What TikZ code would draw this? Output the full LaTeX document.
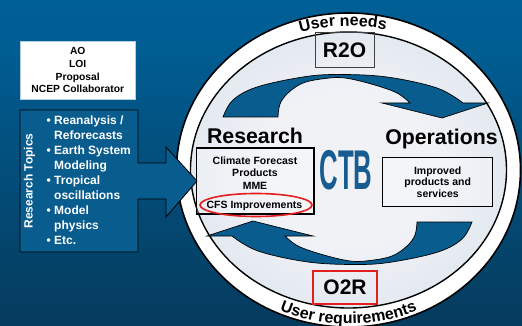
\documentclass[tikz,border=0pt]{standalone}
\usepackage{fontspec}
\setmainfont{Liberation Sans}
\newfontfamily\ctbfont{Liberation Sans}[FakeStretch=0.46]
\usetikzlibrary{decorations.text}
\definecolor{bgtop}{RGB}{0,98,152}
\definecolor{bgmida}{RGB}{0,94,148}
\definecolor{bgmidb}{RGB}{4,70,110}
\definecolor{bgbot}{RGB}{8,40,64}
\definecolor{arrowblue}{RGB}{8,92,142}
\definecolor{ctbblue}{RGB}{24,92,145}
\definecolor{discin}{RGB}{240,242,246}
\definecolor{discmid}{RGB}{220,228,237}
\definecolor{discout}{RGB}{178,202,220}
\definecolor{redline}{RGB}{226,30,30}
\pgfdeclareverticalshading{bgshade}{100bp}{color(0bp)=(bgbot); color(39bp)=(bgmidb); color(69bp)=(bgmida); color(100bp)=(bgtop)}
\pgfdeclareradialshading{discshade}{\pgfpoint{0bp}{0bp}}{color(0bp)=(discin); color(14bp)=(discin); color(32bp)=(discmid); color(50bp)=(discout)}
\def\curvearrow{(223,-117) -- plot[smooth,tension=0.6] coordinates {(223,-117) (233,-100) (257,-87) (303,-77) (338,-74.5) (387,-77) (437,-88) (463,-103)} -- (488,-103) -- (442,-118) -- (382,-103) -- (410,-103) -- plot[smooth,tension=0.6] coordinates {(410,-103) (397,-93) (373,-84.5) (345,-78) (325,-78.5) (303,-83) (288,-93) (280,-104) (278,-117)} -- cycle}
\begin{document}
\begin{tikzpicture}[x=1pt,y=1pt,
  arrowfill/.style={fill=arrowblue, draw=black, line width=0.7pt},
  bodytext/.style={font=\bfseries\fontsize{10.5}{12.5}\selectfont, align=center},
  bigword/.style={font=\bfseries\fontsize{21.3}{24}\selectfont},
  flowbox/.style={inner sep=0pt, font=\bfseries\fontsize{21}{22}\selectfont},
  ringtext/.style={decorate, decoration={text along path, text align=center, text={|\bfseries\fontsize{16}{16}\selectfont|#1}}}
]
\useasboundingbox (0,0) rectangle (522,-326);
\clip (0,0) rectangle (522,-326);
\shade[shading=bgshade] (0,0) rectangle (522,-326);
% ring and disc
\coordinate (C) at (348.5,-170);
\draw[fill=white, line width=1.6pt] (C) ellipse [x radius=172, y radius=157];
\shadedraw[shading=discshade, line width=1.4pt] (C) ellipse [x radius=158, y radius=138];
\path[ringtext={User needs}] (C) ++(122:162 and 144) arc[start angle=122, end angle=62, x radius=162, y radius=144];
\path[ringtext={User requirements}] (C) ++(236:168 and 154) arc[start angle=236, end angle=304, x radius=168, y radius=154];
% curved arrows
\filldraw[arrowfill] \curvearrow;
\begin{scope}[shift={(695,-339)}, rotate=180]
\filldraw[arrowfill] \curvearrow;
\end{scope}
% left box with arrow
\filldraw[fill=arrowblue, draw=black, line width=0.8pt] (20,-110) -- (138,-110) -- (138,-163) -- (166,-163) -- (166,-147) -- (197,-181) -- (166,-217) -- (166,-199) -- (138,-199) -- (138,-252) -- (20,-252) -- cycle;
\node[rotate=90, text=white, font=\bfseries\fontsize{12}{14}\selectfont] (rt) at (29.5,-181) {Research Topics};
\node[anchor=north west, inner sep=0pt, align=left, text=white, font=\bfseries\fontsize{12}{15}\selectfont] (topics) at (54,-116) {\llap{\textbullet\ }Reanalysis /\\Reforecasts\\\llap{\textbullet\ }Earth System\\Modeling\\\llap{\textbullet\ }Tropical\\oscillations\\\llap{\textbullet\ }Model\\physics\\\llap{\textbullet\ }Etc.};
% AO box
\node[draw=white!70!bgtop, fill=white, line width=0.5pt, minimum width=115.5pt, minimum height=58pt, inner sep=0pt, align=center, font=\bfseries\fontsize{10.3}{12.7}\selectfont] (ao) at (77.75,-70.2) {AO\\LOI\\Proposal\\NCEP Collaborator};
% R2O / O2R
\node[flowbox, draw=black!75, line width=1pt, minimum width=59pt, minimum height=35pt] (r2o) at (344.5,-50.5) {R2O};
\node[flowbox, draw=redline, line width=1.2pt, minimum width=64pt, minimum height=33pt] (o2r) at (345,-287.5) {O2R};
% Research side
\node[bigword, anchor=base] (research) at (255,-143.3) {Research};
\node[draw, line width=1.2pt, fill=white, fill opacity=0.25, minimum width=117.5pt, minimum height=66pt] (resbox) at (255.25,-181) {};
\node[bodytext, anchor=north, inner sep=0pt] (cfp) at (255,-156.3) {Climate Forecast\\Products\\MME};
\node[anchor=base, font=\bfseries\fontsize{10.5}{12}\selectfont] (cfs) at (254.5,-208.7) {CFS Improvements};
\draw[redline, line width=1.6pt] (256,-205) ellipse [x radius=56, y radius=11.5];
% Operations side
\node[bigword, anchor=base] (ops) at (441.5,-145) {Operations};
\node[draw, line width=1.2pt, fill=white, fill opacity=0.25, text opacity=1, minimum width=110pt, minimum height=49pt, bodytext, font=\bfseries\fontsize{10.5}{11.8}\selectfont] (opsbox) at (437.7,-182.2) {Improved\\products and\\services};
% CTB
\node[text=ctbblue, font=\ctbfont\bfseries\fontsize{56}{56}\selectfont, inner sep=0pt] (ctb) at (346,-170) {CTB};
\end{tikzpicture}
\end{document}
